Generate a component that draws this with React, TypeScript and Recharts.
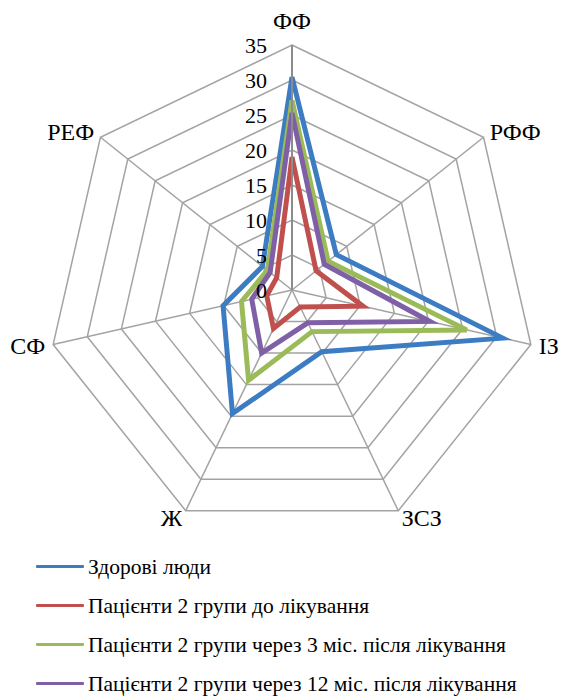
import React from 'react';
import { RadarChart, Radar, PolarGrid, PolarAngleAxis, PolarRadiusAxis, Legend } from 'recharts';

const categories = ['ФФ', 'РФФ', 'ІЗ', 'ЗСЗ', 'Ж', 'СФ', 'РЕФ'];
const healthy = [30.4, 8.1, 30.9, 9.8, 19.6, 10.1, 5.4];
const beforeTreatment = [19.0, 4.4, 10.4, 2.7, 6.1, 3.7, 2.8];
const after3 = [27.1, 6.6, 25.6, 6.6, 14.3, 7.4, 4.5];
const after12 = [25.3, 5.9, 20.2, 5.2, 10.0, 5.9, 4.0];
const radiusTicks = [0, 5, 10, 15, 20, 25, 30, 35];

const seriesNames = [
  'Здорові люди',
  'Пацієнти 2 групи до лікування',
  'Пацієнти 2 групи через 3 міс. після лікування',
  'Пацієнти 2 групи через 12 міс. після лікування',
];
const seriesColors = ['#3C7CC3', '#C0504D', '#9BBB59', '#7F60A6'];

const data = categories.map((c, i) => ({
  cat: c,
  s0: healthy[i],
  s1: beforeTreatment[i],
  s2: after3[i],
  s3: after12[i],
}));

const FONT = '"Liberation Serif", "Times New Roman", serif';

const AngleTick = (props: any) => {
  const { x, y, payload, textAnchor } = props;
  const dy = textAnchor === 'middle' ? -16 : 0;
  return (
    <text x={x} y={y + dy} textAnchor={textAnchor} dominantBaseline="central" fontFamily={FONT} fontSize={24} fill="#000">
      {payload.value}
    </text>
  );
};

const RadiusTick = (props: any) => {
  const { x, y, payload } = props;
  return (
    <text x={x - 25} y={y} textAnchor="end" dominantBaseline="central" fontFamily={FONT} fontSize={22} fill="#000">
      {payload.value}
    </text>
  );
};

const LegendContent = () => (
  <div style={{ fontFamily: FONT, fontSize: 21.5, color: '#000' }}>
    {seriesNames.map((n, i) => (
      <div key={n} style={{ display: 'flex', alignItems: 'center', height: 39 }}>
        <div style={{ width: 48, height: 3, background: seriesColors[i], marginLeft: 36, marginRight: 4, borderRadius: 1 }} />
        <span style={{ whiteSpace: 'nowrap', lineHeight: '24px' }}>{n}</span>
      </div>
    ))}
  </div>
);

export default function App() {
  return (
    <div style={{ position: 'absolute', left: 0, top: 0, width: 562, height: 696, background: '#fff' }}>
      <RadarChart width={562} height={696} data={data} cx={292} cy={290} outerRadius={245} margin={{ top: 0, right: 0, bottom: 0, left: 0 }}>
        <PolarGrid gridType="polygon" stroke="#A3A3A3" strokeWidth={1.5} />
        <PolarAngleAxis dataKey="cat" tick={AngleTick} tickLine={false} axisLine={false} tickSize={8} />
        <PolarRadiusAxis angle={90} domain={[0, 35]} ticks={radiusTicks as any} tickCount={8} tick={RadiusTick} tickLine={false} axisLine={{ stroke: '#8C8C8C', strokeWidth: 2 }} />
        {['s0', 's1', 's2', 's3'].map((k, i) => (
          <Radar key={k} name={seriesNames[i]} dataKey={k} stroke={seriesColors[i]} strokeWidth={5} fill="none" fillOpacity={0} strokeLinejoin="miter" isAnimationActive={false} dot={false} />
        ))}
        <Legend content={LegendContent} wrapperStyle={{ position: 'absolute', left: 0, top: 547, width: 562 }} />
      </RadarChart>
    </div>
  );
}
